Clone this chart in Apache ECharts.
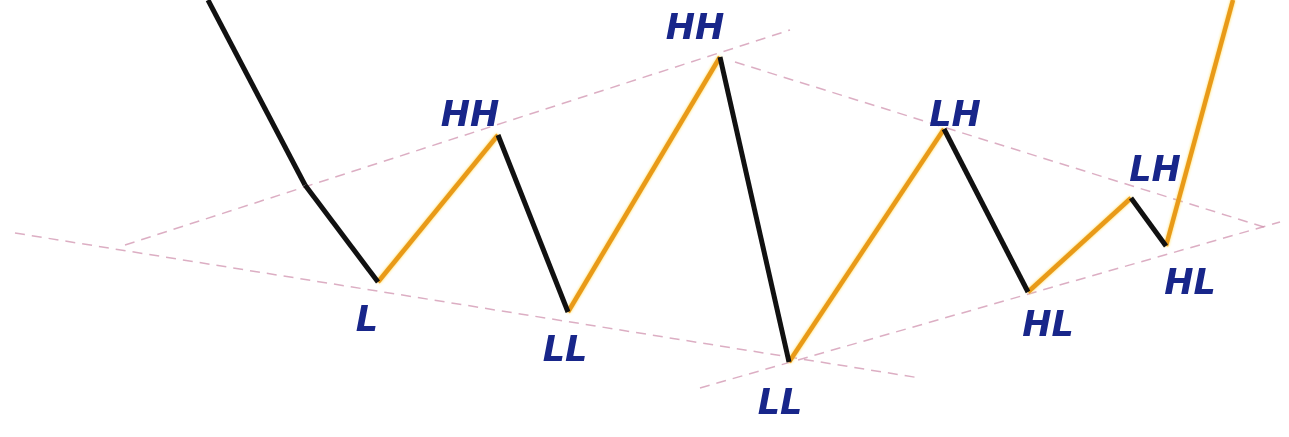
<!DOCTYPE html>
<html>
<head>
<meta charset="utf-8">
<script src="https://cdn.jsdelivr.net/npm/echarts@6/dist/echarts.min.js"></script>
<style>
  html, body { margin: 0; padding: 0; background: #fff; }
  #chart { width: 1289px; height: 437px; }
</style>
</head>
<body>
<div id="chart"></div>
<script>
// price swings: time index and price at each pivot
const pivotTime = [20.8, 30.5, 37.8, 49.8, 56.8, 72.0, 78.9, 94.4, 102.8, 113.1, 116.6, 123.3]
const pivotPrice = [43.7, 25.2, 15.5, 30.2, 12.5, 38.0, 7.5, 30.8, 14.5, 23.9, 19.1, 43.7]

// swing tags and where they sit
const tagText = ['HH', 'HH', 'LH', 'LH', 'L', 'LL', 'LL', 'HL', 'HL']
const tagTime = [47.0, 69.5, 95.5, 115.5, 36.7, 56.5, 78.0, 104.8, 119.0]
const tagPrice = [32.0, 40.7, 32.0, 26.5, 11.5, 8.5, 3.2, 11.0, 15.2]

// trend lines: [startTime, startPrice, endTime, endPrice]
const trendLines = [
  [1.5, 20.4, 92.0, 5.9],
  [12.5, 19.2, 79.0, 40.7],
  [73.5, 37.5, 126.7, 20.9],
  [70.0, 4.9, 128.0, 21.5],
]

const chart = echarts.init(document.getElementById('chart'))

// one series per swing leg, black falling, orange rising
const legs = []
for (let i = 1; i < pivotTime.length; i++) {
  const up = pivotPrice[i] > pivotPrice[i - 1]
  legs.push({
    type: 'line',
    data: [[pivotTime[i - 1], pivotPrice[i - 1]], [pivotTime[i], pivotPrice[i]]],
    symbol: 'none',
    z: up ? 4 : 5,
    lineStyle: up
      ? { color: '#e99a18', width: 4.5, shadowColor: '#ffd84a', shadowBlur: 3 }
      : { color: '#111111', width: 5 },
  })
}

const trends = trendLines.map(t => ({
  type: 'line',
  data: [[t[0], t[1]], [t[2], t[3]]],
  symbol: 'none',
  z: 2,
  lineStyle: { color: 'rgba(205,140,170,0.7)', width: 1.5, type: [10, 7] },
}))

const tags = {
  type: 'scatter',
  symbolSize: 0,
  z: 6,
  itemStyle: { opacity: 1 },
  data: tagText.map((t, i) => ({ value: [tagTime[i], tagPrice[i]], name: t })),
  label: {
    show: true,
    position: 'inside',
    formatter: p => p.name,
    color: '#18268a',
    fontFamily: 'DejaVu Sans',
    fontWeight: 'bold',
    fontStyle: 'italic',
    fontSize: 35,
  },
}

const option = {
  backgroundColor: '#fff',
  animation: false,
  grid: { left: 0, right: 0, top: 0, bottom: 0 },
  xAxis: { type: 'value', min: 0, max: 128.9, show: false },
  yAxis: { type: 'value', min: 0, max: 43.7, show: false },
  series: [...trends, ...legs, tags],
}
chart.setOption(option)
</script>
</body>
</html>
